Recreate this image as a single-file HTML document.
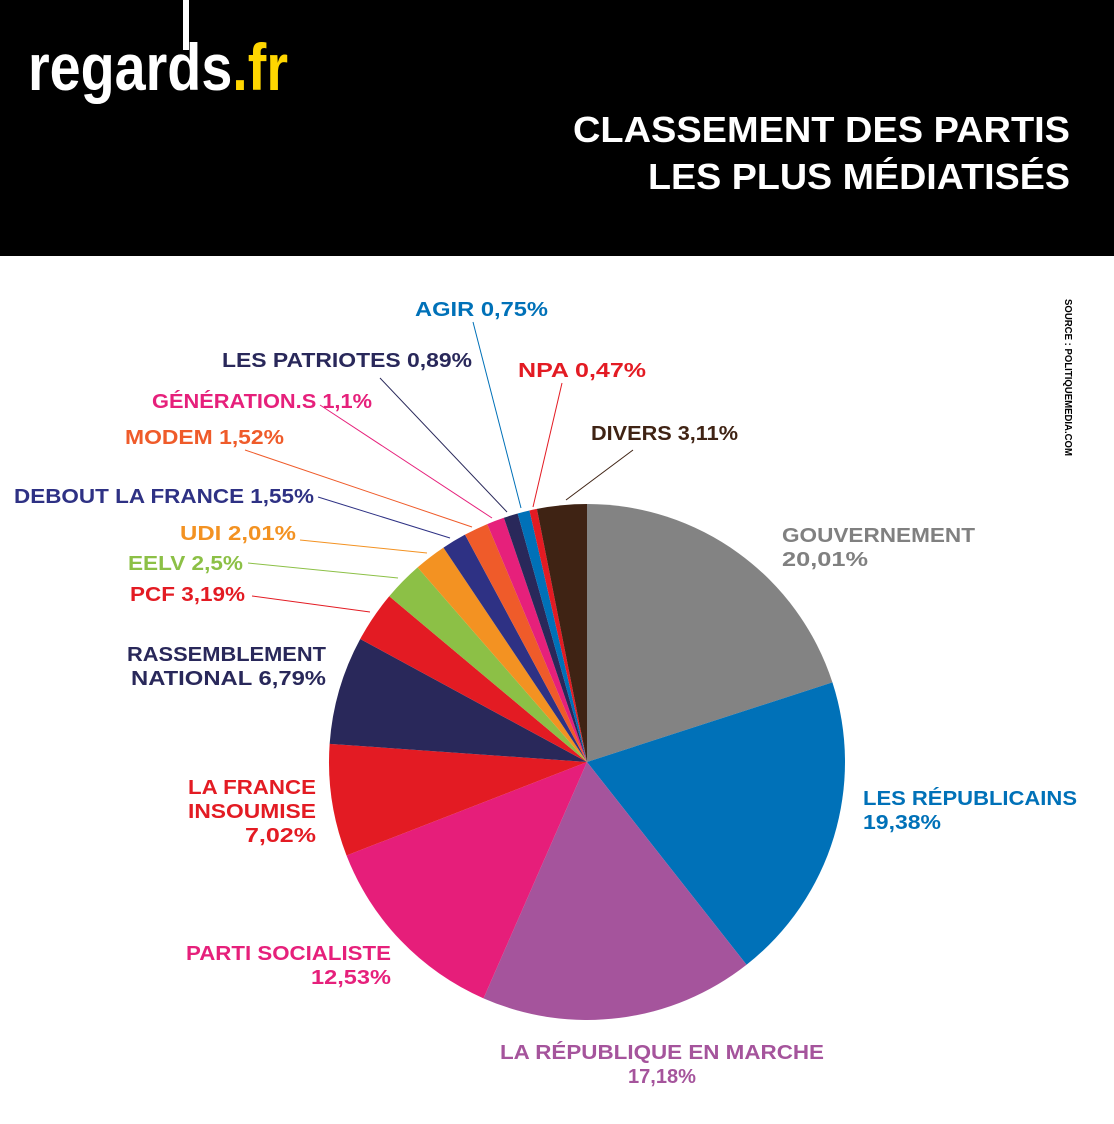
<!DOCTYPE html>
<html><head><meta charset="utf-8"><style>
html,body{margin:0;padding:0;background:#fff;}
svg{display:block;font-family:"Liberation Sans",sans-serif;font-weight:bold;}
</style></head><body>
<svg id="s" width="1114" height="1124" viewBox="0 0 1114 1124" xmlns="http://www.w3.org/2000/svg">
<rect x="0" y="0" width="1114" height="256" fill="#000"/>
<text x="28" y="90" font-size="66" fill="#fff" textLength="260" lengthAdjust="spacingAndGlyphs">regards<tspan fill="#ffd600">.fr</tspan></text>
<rect x="183" y="0" width="6" height="50" fill="#fff"/>
<text x="1070" y="142" font-size="36" fill="#fff" text-anchor="end" textLength="497" lengthAdjust="spacingAndGlyphs">CLASSEMENT DES PARTIS</text>
<text x="1070" y="189" font-size="36" fill="#fff" text-anchor="end" textLength="422" lengthAdjust="spacingAndGlyphs">LES PLUS MÉDIATISÉS</text>
<text x="0" y="0" font-size="10" fill="#000" transform="translate(1065,299) rotate(90)" textLength="157" lengthAdjust="spacingAndGlyphs">SOURCE : POLITIQUEMEDIA.COM</text>
<g id="pie"></g>
<g stroke-width="1" fill="none">
<line x1="252" y1="596" x2="370" y2="612" stroke="#e31b23"/>
<line x1="248" y1="563" x2="398" y2="578" stroke="#8cc046"/>
<line x1="300" y1="540" x2="427" y2="553" stroke="#f39222"/>
<line x1="318" y1="497" x2="450" y2="538" stroke="#2e3184"/>
<line x1="245" y1="450" x2="472" y2="527" stroke="#ef5b2a"/>
<line x1="320" y1="405" x2="492" y2="518" stroke="#e6207b"/>
<line x1="380" y1="378" x2="507" y2="512" stroke="#29285a"/>
<line x1="473" y1="322" x2="521" y2="508" stroke="#0071b8"/>
<line x1="562" y1="383" x2="533" y2="507" stroke="#e31b23"/>
<line x1="633" y1="450" x2="566" y2="500" stroke="#3f2314"/>
</g>
<g font-size="20" lengthAdjust="spacingAndGlyphs">
<text x="415" y="316" fill="#0071b8" textLength="133" lengthAdjust="spacingAndGlyphs">AGIR 0,75%</text>
<text x="222" y="367" fill="#29285a" textLength="250" lengthAdjust="spacingAndGlyphs">LES PATRIOTES 0,89%</text>
<text x="518" y="377" fill="#e31b23" textLength="128" lengthAdjust="spacingAndGlyphs">NPA 0,47%</text>
<text x="152" y="408" fill="#e6207b" textLength="220" lengthAdjust="spacingAndGlyphs">GÉNÉRATION.S 1,1%</text>
<text x="125" y="444" fill="#ef5b2a" textLength="159" lengthAdjust="spacingAndGlyphs">MODEM 1,52%</text>
<text x="591" y="440" fill="#3f2314" textLength="147" lengthAdjust="spacingAndGlyphs">DIVERS 3,11%</text>
<text x="14" y="503" fill="#2e3184" textLength="300" lengthAdjust="spacingAndGlyphs">DEBOUT LA FRANCE 1,55%</text>
<text x="180" y="540" fill="#f39222" textLength="116" lengthAdjust="spacingAndGlyphs">UDI 2,01%</text>
<text x="128" y="570" fill="#8cc046" textLength="115" lengthAdjust="spacingAndGlyphs">EELV 2,5%</text>
<text x="130" y="601" fill="#e31b23" textLength="115" lengthAdjust="spacingAndGlyphs">PCF 3,19%</text>
<text x="326" y="661" fill="#29285a" text-anchor="end" textLength="199" lengthAdjust="spacingAndGlyphs">RASSEMBLEMENT</text>
<text x="326" y="685" fill="#29285a" text-anchor="end" textLength="195" lengthAdjust="spacingAndGlyphs">NATIONAL 6,79%</text>
<text x="782" y="542" fill="#808080" textLength="193" lengthAdjust="spacingAndGlyphs">GOUVERNEMENT</text>
<text x="782" y="566" fill="#808080" textLength="86" lengthAdjust="spacingAndGlyphs">20,01%</text>
<text x="863" y="805" fill="#0071b8" textLength="214" lengthAdjust="spacingAndGlyphs">LES RÉPUBLICAINS</text>
<text x="863" y="829" fill="#0071b8" textLength="78" lengthAdjust="spacingAndGlyphs">19,38%</text>
<text x="316" y="794" fill="#e31b23" text-anchor="end" textLength="128" lengthAdjust="spacingAndGlyphs">LA FRANCE</text>
<text x="316" y="818" fill="#e31b23" text-anchor="end" textLength="128" lengthAdjust="spacingAndGlyphs">INSOUMISE</text>
<text x="316" y="842" fill="#e31b23" text-anchor="end" textLength="71" lengthAdjust="spacingAndGlyphs">7,02%</text>
<text x="391" y="960" fill="#e6207b" text-anchor="end" textLength="205" lengthAdjust="spacingAndGlyphs">PARTI SOCIALISTE</text>
<text x="391" y="984" fill="#e6207b" text-anchor="end" textLength="80" lengthAdjust="spacingAndGlyphs">12,53%</text>
<text x="662" y="1059" fill="#a5549c" text-anchor="middle" textLength="324" lengthAdjust="spacingAndGlyphs">LA RÉPUBLIQUE EN MARCHE</text>
<text x="662" y="1083" fill="#a5549c" text-anchor="middle" textLength="68" lengthAdjust="spacingAndGlyphs">17,18%</text>
</g>
</svg>
<script>
var d=[[20.01,"#838383"],[19.38,"#0071b8"],[17.18,"#a5549c"],[12.53,"#e61e7a"],[7.02,"#e31b23"],[6.79,"#29285a"],[3.19,"#e31b23"],[2.5,"#8cc046"],[2.01,"#f39222"],[1.55,"#2e3184"],[1.52,"#ef5b2a"],[1.1,"#e6207b"],[0.89,"#29285a"],[0.75,"#0071b8"],[0.47,"#e31b23"],[3.11,"#3f2314"]];
var cx=587,cy=762,r=258,a=0,g=document.getElementById("pie"),h="";
d.forEach(function(e){var a1=a+e[0]/100*2*Math.PI;
var x0=cx+r*Math.sin(a),y0=cy-r*Math.cos(a),x1=cx+r*Math.sin(a1),y1=cy-r*Math.cos(a1);
h+='<path d="M'+cx+','+cy+' L'+x0+','+y0+' A'+r+','+r+' 0 '+(a1-a>Math.PI?1:0)+' 1 '+x1+','+y1+' Z" fill="'+e[1]+'"/>';a=a1;});
g.innerHTML=h;
</script>
</body></html>
